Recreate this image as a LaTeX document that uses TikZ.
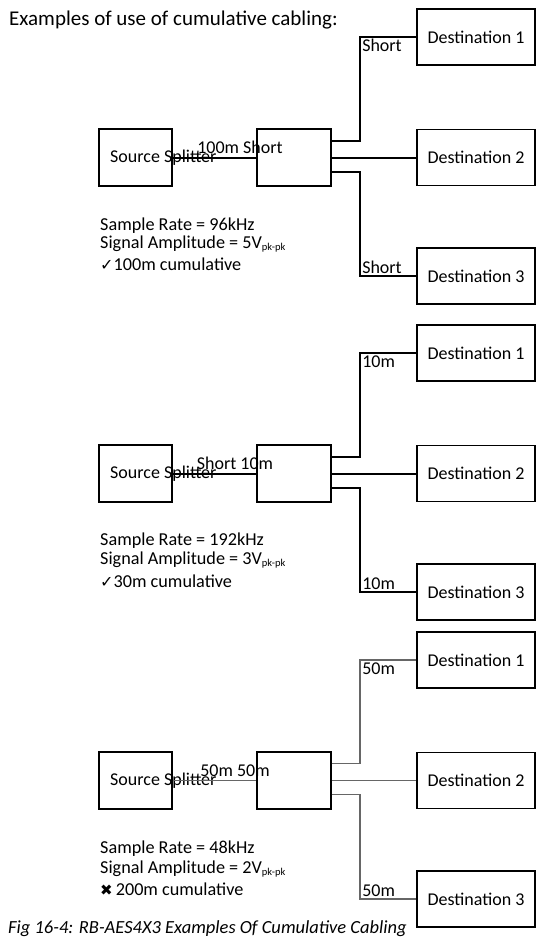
\documentclass[tikz,border=0pt]{standalone}
\usepackage{fontspec}
\setmainfont{Carlito}
\newfontfamily\symfont{DejaVu Sans}
\usetikzlibrary{calc}
\newcommand{\pkpk}{\raisebox{-2.5pt}{\fontsize{10.5}{10.5}\selectfont pk-pk}}
\tikzset{
	box/.style={draw, line width=1.4pt, inner sep=0pt, minimum width=73pt, minimum height=57pt},
	dest/.style={draw, line width=1.9pt, inner sep=0pt, minimum width=118pt, minimum height=56pt, font=\fontsize{18}{18}\selectfont},
	cable/.style={line width=2pt},
	greycable/.style={line width=1.3pt, color=black!60},
	lbl/.style={inner sep=0pt, font=\fontsize{18}{18}\selectfont},
	info/.style={inner sep=0pt, anchor=base west, font=\fontsize{18.2}{18.2}\selectfont},
}

\begin{document}
\begin{tikzpicture}[x=1pt, y=-1pt]
		%%%%% START %%%%%
		\useasboundingbox (0,0) rectangle (537,937);
		
		\node[lbl, anchor=base west, font=\fontsize{21}{21}\selectfont] (title) at (9,25) {Examples of use of cumulative cabling:};
		
		%%%%% FIRST %%%%%
		\node[box] (src1) at (135.5,157.5) {};
		\node[box, minimum width=74pt] (spl1) at (294,157.5) {};
		\node[lbl, anchor=west] (srct1) at (110,158) {Source Splitter};
		
		\node[dest] (d11) at (476,37) {Destination 1};
		\node[dest] (d12) at (476,157.5) {Destination 2};
		\node[dest] (d13) at (476,276) {Destination 3};
		
		\coordinate (c11) at ([xshift=-56pt]d11.west);
		\coordinate (c13) at ([xshift=-56pt]d13.west);
		
		\draw[cable] (src1) -- (spl1);
		\draw[cable] ([yshift=17pt]spl1.east) -| (c11) -- (d11.west);
		\draw[cable] (spl1.east) -- (d12.west);
		\draw[cable] ([yshift=-14pt]spl1.east) -| (c13) -- (d13.west);
		
		\node[lbl, anchor=base] (len1) at (240,153) {100m Short};
		\node[lbl, anchor=base west] (l11) at ([xshift=2pt, yshift=-14pt]c11) {Short};
		\node[lbl, anchor=base west] (l13) at ([xshift=2pt, yshift=3pt]c13) {Short};
		
		\node[info] (rate1) at (100,230) {Sample Rate = 96kHz};
		\node[info] (amp1) at (100,248) {Signal Amplitude = 5V\pkpk};
		\node[info] (res1) at (100,270) {{\symfont\fontsize{16}{16}\selectfont ✓}100m cumulative};
		
		%%%%% SECOND %%%%%
		\node[box] (src2) at (135.5,473.5) {};
		\node[box, minimum width=74pt] (spl2) at (294,473.5) {};
		\node[lbl, anchor=west] (srct2) at (110,474) {Source Splitter};
		
		\node[dest] (d21) at (476,353) {Destination 1};
		\node[dest] (d22) at (476,473.5) {Destination 2};
		\node[dest] (d23) at (476,592) {Destination 3};
		
		\coordinate (c21) at ([xshift=-56pt]d21.west);
		\coordinate (c23) at ([xshift=-56pt]d23.west);
		
		\draw[cable] (src2) -- (spl2);
		\draw[cable] ([yshift=17pt]spl2.east) -| (c21) -- (d21.west);
		\draw[cable] (spl2.east) -- (d22.west);
		\draw[cable] ([yshift=-14pt]spl2.east) -| (c23) -- (d23.west);
		
		\node[lbl, anchor=base] (len2) at (235,469) {Short 10m};
		\node[lbl, anchor=base west] (l21) at ([xshift=2pt, yshift=-14pt]c21) {10m};
		\node[lbl, anchor=base west] (l23) at ([xshift=2pt, yshift=3pt]c23) {10m};
		
		\node[info] (rate2) at (100,545) {Sample Rate = 192kHz};
		\node[info] (amp2) at (100,564) {Signal Amplitude = 3V\pkpk};
		\node[info] (res2) at (100,587) {{\symfont\fontsize{16}{16}\selectfont ✓}30m cumulative};
		
		%%%%% THIRD %%%%%
		\node[box] (src3) at (135.5,780.5) {};
		\node[box, minimum width=74pt] (spl3) at (294,780.5) {};
		\node[lbl, anchor=west] (srct3) at (110,781) {Source Splitter};
		
		\node[dest] (d31) at (476,660) {Destination 1};
		\node[dest] (d32) at (476,780.5) {Destination 2};
		\node[dest] (d33) at (476,899) {Destination 3};
		
		\coordinate (c31) at ([xshift=-56pt]d31.west);
		\coordinate (c33) at ([xshift=-56pt]d33.west);
		
		\draw[greycable] (src3) -- (spl3);
		\draw[greycable] ([yshift=17pt]spl3.east) -| (c31) -- (d31.west);
		\draw[greycable] (spl3.east) -- (d32.west);
		\draw[greycable] ([yshift=-14pt]spl3.east) -| (c33) -- (d33.west);
		
		\node[lbl, anchor=base] (len3) at (235,776) {50m 50m};
		\node[lbl, anchor=base west] (l31) at ([xshift=2pt, yshift=-14pt]c31) {50m};
		\node[lbl, anchor=base west] (l33) at ([xshift=2pt, yshift=3pt]c33) {50m};
		
		\node[info] (rate3) at (100,853) {Sample Rate = 48kHz};
		\node[info] (amp3) at (100,873) {Signal Amplitude = 2V\pkpk};
		\node[info] (res3) at (100,895) {{\symfont\fontsize{15}{15}\selectfont ✖}\,200m cumulative};
		
		\node[lbl, anchor=base west, font=\fontsize{18.5}{18.5}\selectfont\itshape] (caption) at (8,933) {Fig 16-4: RB-AES4X3 Examples Of Cumulative Cabling};
		
		%%%%% END %%%%%
	\end{tikzpicture}
\end{document}
